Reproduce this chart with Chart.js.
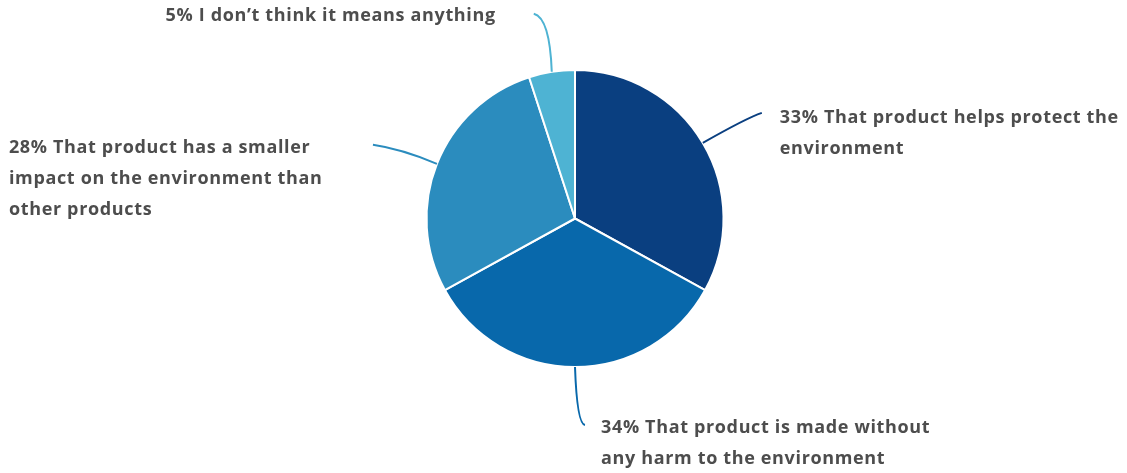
<!DOCTYPE html>
<html>
<head>
<meta charset="utf-8">
<script src="https://cdn.jsdelivr.net/npm/chart.js@4"></script>
<style>
  html, body { margin: 0; padding: 0; background: #fff; }
  #wrap { width: 1127px; height: 473px; position: relative; }
</style>
</head>
<body>
<div id="wrap"><canvas id="pieChart"></canvas></div>
<script>
const categories = [
  ["That product helps protect the", "environment"],
  ["That product is made without", "any harm to the environment"],
  ["That product has a smaller", "impact on the environment than", "other products"],
  ["I don\u2019t think it means anything"]
];
const shares = [33, 34, 28, 5];
const sliceColors = ["#0a3f80", "#0868ab", "#2b8cbe", "#4eb3d3"];

// where each label sits relative to its slice edge point (leader end, control, text)
const labelLayout = [
  { end: [59, -30], ctrl: [44, -25], text: [18, 5], align: "left" },
  { end: [10, 58], ctrl: [2, 57], text: [16, 3], align: "left" },
  { end: [-64, -19], ctrl: [-36, -15], text: [-364, 3], align: "left" },
  { end: [-18, -58], ctrl: [-2, -54], text: [-38, 2], align: "right" }
];

const leaderLabels = {
  id: "leaderLabels",
  afterDatasetsDraw(chart) {
    const ctx = chart.ctx;
    const meta = chart.getDatasetMeta(0);
    ctx.save();
    ctx.font = "bold 18px 'Open Sans'";
    ctx.letterSpacing = "0.65px";
    ctx.textBaseline = "middle";
    meta.data.forEach((arc, i) => {
      const p = arc.getProps(["x", "y", "startAngle", "endAngle", "outerRadius"], true);
      const mid = (p.startAngle + p.endAngle) / 2;
      const sx = p.x + Math.cos(mid) * p.outerRadius;
      const sy = p.y + Math.sin(mid) * p.outerRadius;
      const lay = labelLayout[i];
      const ex = sx + lay.end[0], ey = sy + lay.end[1];

      ctx.strokeStyle = sliceColors[i];
      ctx.lineWidth = 2;
      ctx.beginPath();
      ctx.moveTo(sx, sy);
      ctx.quadraticCurveTo(sx + lay.ctrl[0], sy + lay.ctrl[1], ex, ey);
      ctx.stroke();

      const lines = categories[i].slice();
      lines[0] = shares[i] + "% " + lines[0];
      ctx.fillStyle = "#4d4d4d";
      ctx.textAlign = lay.align;
      lines.forEach((ln, k) => {
        ctx.fillText(ln, ex + lay.text[0], ey + lay.text[1] + k * 31);
      });
    });
    ctx.restore();
  }
};

new Chart(document.getElementById("pieChart"), {
  type: "pie",
  data: {
    labels: categories.map(c => c.join(" ")),
    datasets: [{
      data: shares,
      backgroundColor: sliceColors,
      borderColor: "#ffffff",
      borderWidth: 2
    }]
  },
  options: {
    responsive: true,
    maintainAspectRatio: false,
    animation: false,
    layout: { padding: { top: 69, bottom: 105, left: 123, right: 100 } },
    plugins: {
      legend: { display: false },
      tooltip: { enabled: false }
    }
  },
  plugins: [leaderLabels]
});
</script>
</body>
</html>
